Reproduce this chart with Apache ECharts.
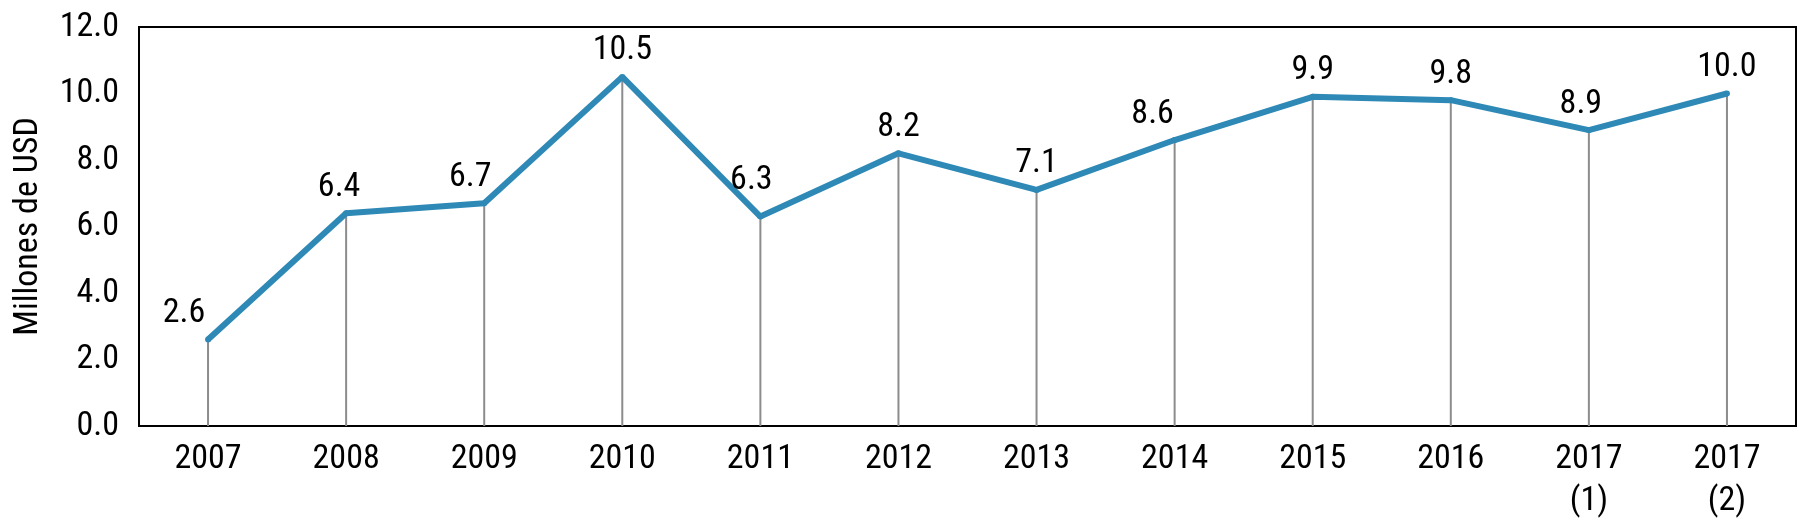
<!DOCTYPE html>
<html>
<head>
<meta charset="utf-8">
<script src="https://cdn.jsdelivr.net/npm/echarts@6/dist/echarts.min.js"></script>
<style>
html,body{margin:0;padding:0;background:#fff;}
#chart{width:1800px;height:523px;}
</style>
</head>
<body>
<div id="chart"></div>
<script>
var categories = ['2007','2008','2009','2010','2011','2012','2013','2014','2015','2016','2017\n(1)','2017\n(2)'];
var values = [2.6, 6.4, 6.7, 10.5, 6.3, 8.2, 7.1, 8.6, 9.9, 9.8, 8.9, 10.0];
var yTicks = [0, 2, 4, 6, 8, 10, 12];
var yAxisTitle = 'Millones de USD';

// style only: nudge of value labels away from the line (px)
var labelShiftX = [-24, -7, -14, 0, -9, 0, 0, -22, 0, 0, -8, 0];
var labelShiftY = [0, 0, 0, 0, -10, 0, 0, 0, 0, 0, 0, 0];

var FONT = '"Roboto Condensed", "DejaVu Sans Condensed", "Liberation Sans", sans-serif';
var FS = 34;
var lineData = values.map(function (v, i) {
  return {value: v, label: {offset: [labelShiftX[i], labelShiftY[i]]}};
});
var chart = echarts.init(document.getElementById('chart'), null, {renderer: 'canvas'});
chart.setOption({
  animation: false,
  backgroundColor: '#fff',
  textStyle: {fontFamily: FONT},
  grid: {left: 139, right: 4, top: 27, bottom: 97, show: true, borderColor: '#000', borderWidth: 2, backgroundColor: 'transparent'},
  xAxis: {
    type: 'category',
    data: categories,
    boundaryGap: true,
    axisLine: {show: true, lineStyle: {color: '#000', width: 2}},
    axisTick: {show: false},
    axisLabel: {color: '#000', fontSize: FS, fontFamily: FONT, margin: 12, lineHeight: 42, interval: 0},
    splitLine: {show: false}
  },
  yAxis: {
    type: 'value',
    min: yTicks[0],
    max: yTicks[yTicks.length - 1],
    interval: 2,
    name: yAxisTitle,
    nameLocation: 'middle',
    nameGap: 94,
    nameTextStyle: {color: '#000', fontSize: FS, fontFamily: FONT},
    axisLine: {show: true, lineStyle: {color: '#000', width: 2}},
    axisTick: {show: false},
    axisLabel: {color: '#000', fontSize: FS, fontFamily: FONT, margin: 20, formatter: function (v) { return v.toFixed(1); }},
    splitLine: {show: false}
  },
  series: [
    {
      type: 'bar',
      data: values,
      barWidth: 2,
      itemStyle: {color: '#8c8c8c'},
      z: 1,
      silent: true
    },
    {
      type: 'line',
      data: lineData,
      z: 3,
      lineStyle: {color: '#2E89B6', width: 6},
      itemStyle: {color: '#2E89B6'},
      symbol: 'circle',
      symbolSize: 6,
      showSymbol: true,
      label: {
        show: true,
        position: 'top',
        distance: 6,
        color: '#000',
        fontSize: FS,
        fontFamily: FONT,
        formatter: function (p) { return p.value.toFixed(1); }
      }
    }
  ]
});
</script>
</body>
</html>
